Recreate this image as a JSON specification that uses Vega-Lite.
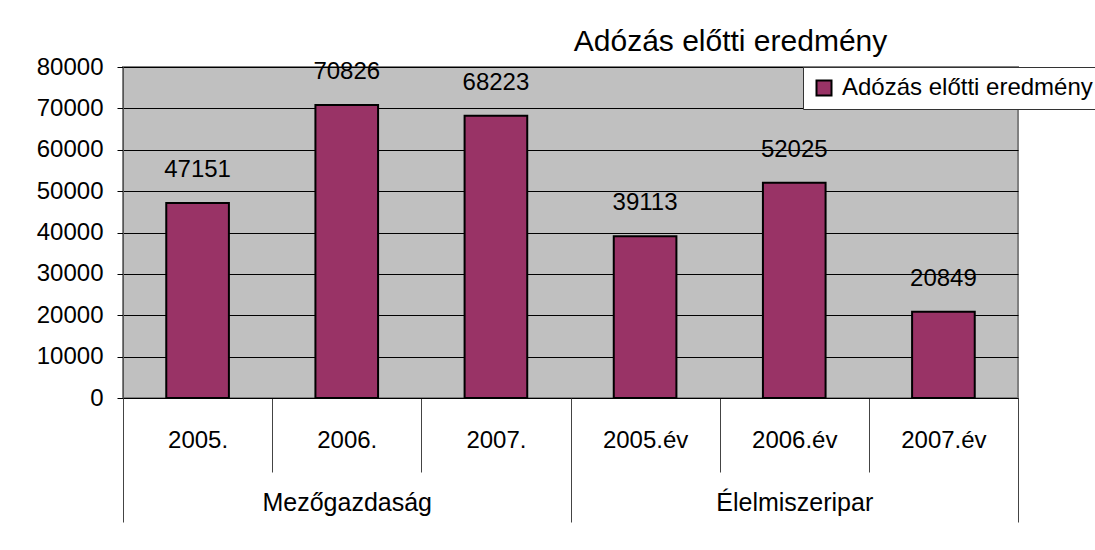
{
  "$schema": "https://vega.github.io/schema/vega-lite/v6.json",
  "width": 895,
  "height": 331,
  "autosize": {"type": "none"},
  "padding": {"left": 123, "top": 67, "right": 77, "bottom": 152},
  "background": "white",
  "title": {
    "text": "Adózás előtti eredmény",
    "fontSize": 30,
    "fontWeight": "normal",
    "font": "Liberation Sans",
    "anchor": "middle",
    "dx": 160,
    "offset": -2,
    "color": "#000"
  },
  "config": {
    "font": "Liberation Sans",
    "view": {"fill": "#C0C0C0", "stroke": "#808080", "strokeWidth": 2}
  },
  "data": {
    "values": [
      {"year": "2005.", "group": "Mezőgazdaság", "value": 47151, "series": "Adózás előtti eredmény"},
      {"year": "2006.", "group": "Mezőgazdaság", "value": 70826, "series": "Adózás előtti eredmény"},
      {"year": "2007.", "group": "Mezőgazdaság", "value": 68223, "series": "Adózás előtti eredmény"},
      {"year": "2005.év", "group": "Élelmiszeripar", "value": 39113, "series": "Adózás előtti eredmény"},
      {"year": "2006.év", "group": "Élelmiszeripar", "value": 52025, "series": "Adózás előtti eredmény"},
      {"year": "2007.év", "group": "Élelmiszeripar", "value": 20849, "series": "Adózás előtti eredmény"}
    ]
  },
  "encoding": {
    "y": {
      "field": "value",
      "type": "quantitative",
      "scale": {"domain": [0, 80000], "nice": false},
      "axis": {
        "title": null,
        "values": [0, 10000, 20000, 30000, 40000, 50000, 60000, 70000, 80000],
        "format": "d",
        "grid": true,
        "gridColor": "#000",
        "gridWidth": 1,
        "tickSize": 6,
        "tickColor": "#000",
        "labelFontSize": 24,
        "labelPadding": 14,
        "labelColor": "#000",
        "domainColor": "#555",
        "domainWidth": 1
      }
    }
  },
  "layer": [
    {
      "mark": {"type": "bar", "width": {"band": 0.42}, "stroke": "#000", "strokeWidth": 2},
      "encoding": {
        "x": {
          "field": "year",
          "type": "nominal",
          "sort": null,
          "scale": {"paddingInner": 0, "paddingOuter": 0},
          "axis": {
            "orient": "bottom",
            "title": null,
            "tickBand": "extent",
            "tickSize": 74,
            "tickColor": "#444",
            "tickWidth": 1,
            "domainColor": "#000",
            "domainWidth": 1,
            "labelFontSize": 24,
            "labelPadding": -44,
            "labelAngle": 0,
            "labelColor": "#000",
            "labelLimit": 400,
            "grid": false
          }
        },
        "color": {
          "field": "series",
          "type": "nominal",
          "scale": {"range": ["#993366"]},
          "legend": {
            "title": null,
            "orient": "none",
            "legendX": 680,
            "legendY": 0,
            "fillColor": "#FFFFFF",
            "strokeColor": "#333",
            "padding": 9,
            "labelFontSize": 24,
            "labelColor": "#000",
            "labelLimit": 0,
            "labelOffset": 6,
            "symbolType": "square",
            "symbolSize": 225,
            "symbolStrokeColor": "#000",
            "symbolStrokeWidth": 2,
            "symbolOpacity": 1
          }
        }
      }
    },
    {
      "mark": {"type": "text", "fontSize": 24, "dy": -26, "baseline": "alphabetic", "color": "#000"},
      "encoding": {
        "x": {
          "field": "year",
          "type": "nominal",
          "sort": null,
          "axis": {
            "orient": "bottom",
            "title": null,
            "tickBand": "extent",
            "tickSize": 124,
            "tickColor": "#444",
            "tickWidth": 1,
            "tickOpacity": {
              "condition": {"test": "!isValid(datum.value) || datum.value === '2007.' || datum.value === '2007.év'", "value": 1},
              "value": 0
            },
            "domain": false,
            "grid": false,
            "labelExpr": "datum.value === '2006.' ? 'Mezőgazdaság' : datum.value === '2006.év' ? 'Élelmiszeripar' : ''",
            "labelFontSize": 25,
            "labelPadding": -32,
            "labelAngle": 0,
            "labelColor": "#000",
            "labelLimit": 400
          }
        },
        "text": {"field": "value", "type": "quantitative", "format": "d"}
      }
    }
  ],
  "resolve": {"axis": {"x": "independent"}}
}
